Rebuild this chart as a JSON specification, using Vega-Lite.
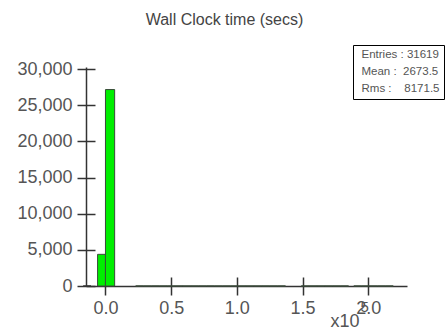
{
  "$schema": "https://vega.github.io/schema/vega-lite/v6.json",
  "width": 321,
  "height": 219,
  "autosize": "none",
  "padding": {"left": 86, "top": 67, "right": 40, "bottom": 43},
  "background": "white",
  "title": {"text": "Wall Clock time (secs)", "font": "Liberation Sans", "fontSize": 16, "fontWeight": "normal", "color": "#444", "anchor": "middle", "dx": -22, "offset": 17},
  "config": {
    "view": {"stroke": null},
    "axis": {"labelFont": "Liberation Sans", "labelFontSize": 18, "labelColor": "#555", "domainColor": "#333", "tickColor": "#333", "domainWidth": 1.5, "tickWidth": 1.5, "grid": false, "titleFont": "Liberation Sans", "titleFontWeight": "normal", "titleColor": "#555"}
  },
  "datasets": {
    "hist": [
      {"start": -0.06, "end": 0.0, "count": 4380},
      {"start": 0.0, "end": 0.07, "count": 27180},
      {"start": 0.23, "end": 0.29, "count": 3},
      {"start": 0.29, "end": 0.35, "count": 2},
      {"start": 0.35, "end": 0.41, "count": 3},
      {"start": 0.41, "end": 0.47, "count": 2},
      {"start": 0.47, "end": 0.53, "count": 2},
      {"start": 0.53, "end": 0.59, "count": 3},
      {"start": 0.59, "end": 0.65, "count": 2},
      {"start": 0.65, "end": 0.71, "count": 2},
      {"start": 0.71, "end": 0.77, "count": 2},
      {"start": 0.77, "end": 0.83, "count": 3},
      {"start": 0.83, "end": 0.89, "count": 2},
      {"start": 0.89, "end": 0.95, "count": 2},
      {"start": 0.95, "end": 1.01, "count": 2},
      {"start": 1.01, "end": 1.07, "count": 2},
      {"start": 1.07, "end": 1.13, "count": 2},
      {"start": 1.13, "end": 1.19, "count": 2},
      {"start": 1.19, "end": 1.25, "count": 2},
      {"start": 1.25, "end": 1.31, "count": 2},
      {"start": 1.31, "end": 1.37, "count": 2},
      {"start": 1.49, "end": 1.55, "count": 2},
      {"start": 1.55, "end": 1.61, "count": 2},
      {"start": 1.61, "end": 1.67, "count": 2},
      {"start": 1.67, "end": 1.73, "count": 2},
      {"start": 1.73, "end": 1.79, "count": 2},
      {"start": 1.79, "end": 1.85, "count": 2},
      {"start": 1.89, "end": 1.95, "count": 2},
      {"start": 1.95, "end": 2.01, "count": 2},
      {"start": 2.01, "end": 2.07, "count": 2},
      {"start": 2.07, "end": 2.13, "count": 2},
      {"start": 2.13, "end": 2.19, "count": 2}
    ],
    "axisext": [{"a": -0.17, "b": -0.11, "c": 0}],
    "stats": [
      {"label": "Entries : 31619"},
      {"label": "Mean :\u00a0 2673.5"},
      {"label": "Rms :\u00a0\u00a0\u00a0 8171.5"}
    ]
  },
  "layer": [
    {
      "data": {"name": "hist"},
      "mark": {"type": "bar", "fill": "#00ee00", "stroke": "#3a4a3a", "strokeWidth": 1, "orient": "vertical"},
      "encoding": {
        "x": {"field": "start", "type": "quantitative", "scale": {"domain": [-0.11, 2.2566], "nice": false, "zero": false},
              "axis": {"orient": "bottom", "values": [0, 0.5, 1, 1.5, 2], "format": ".1f", "tickSize": 9, "labelPadding": 4, "title": "x10", "titleFontSize": 18, "titleX": 244, "titleY": 40, "titleAlign": "left", "titleBaseline": "alphabetic"}},
        "x2": {"field": "end"},
        "y": {"field": "count", "type": "quantitative", "scale": {"domain": [0, 30300], "nice": false},
              "axis": {"orient": "left", "values": [0, 5000, 10000, 15000, 20000, 25000, 30000], "format": ",d", "tickSize": 9, "labelPadding": 5, "title": null}},
        "y2": {"datum": 0}
      }
    },
    {
      "data": {"name": "axisext"},
      "mark": {"type": "rule", "color": "#333", "strokeWidth": 1.5, "clip": false},
      "encoding": {
        "x": {"field": "a", "type": "quantitative", "scale": {"domain": [-0.11, 2.2566], "nice": false, "zero": false},
              "axis": {"orient": "bottom", "values": [0, 0.5, 1, 1.5, 2], "tickSize": -9, "labels": false, "domain": false, "title": "5", "titleFontSize": 15, "titleX": 274, "titleY": 25, "titleAlign": "left", "titleBaseline": "alphabetic"}},
        "x2": {"field": "b"},
        "y": {"field": "c", "type": "quantitative", "scale": {"domain": [0, 30300], "nice": false},
              "axis": {"orient": "left", "values": [0, 5000, 10000, 15000, 20000, 25000, 30000], "tickSize": -9, "labels": false, "domain": false, "title": null}}
      }
    },
    {
      "data": {"name": "stats"},
      "mark": {"type": "point", "opacity": 0},
      "encoding": {
        "color": {"field": "label", "type": "nominal", "scale": {"domain": ["Entries : 31619", "Mean :\u00a0 2673.5", "Rms :\u00a0\u00a0\u00a0 8171.5"], "range": ["white", "white", "white"]},
                  "legend": {"orient": "none", "legendX": 267, "legendY": -22, "title": null, "symbolSize": 1, "symbolOpacity": 0, "symbolStrokeWidth": 0, "labelOffset": -7, "labelFont": "Liberation Sans", "labelFontSize": 11.5, "labelColor": "#555", "strokeColor": "black", "fillColor": "white", "padding": 4, "rowPadding": 4}}
      }
    }
  ],
  "resolve": {"axis": {"x": "independent", "y": "independent"}}
}
